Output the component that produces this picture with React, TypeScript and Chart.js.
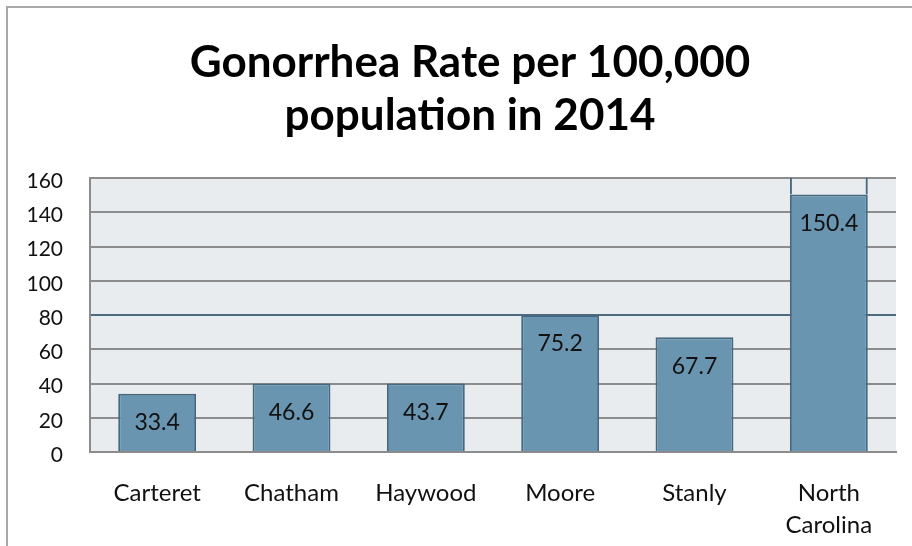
import { useEffect, useRef } from "react";
import { Chart, registerables } from "chart.js";

Chart.register(...registerables);

const titleLines = ["Gonorrhea Rate per 100,000", "population in 2014"];
const categories = [["Carteret"], ["Chatham"], ["Haywood"], ["Moore"], ["Stanly"], ["North", "Carolina"]];
// bar heights as drawn in the picture
const barValues = [34, 40, 40, 80, 67, 150.4];
// value labels printed inside the bars
const valueLabels = ["33.4", "46.6", "43.7", "75.2", "67.7", "150.4"];
// the outline above the North Carolina bar that reaches the top of the axis
const outlineRange: (null | [number, number])[] = [null, null, null, null, null, [150.4, 160]];
const yMin = 0;
const yMax = 160;
const yStep = 20;

const FONT = "Lato, 'Open Sans', sans-serif";
const BAR_FILL = "#6995b0";
const BAR_EDGE = "#46697f";
const PLOT_BG = "#e9ecef";
const GRID = "#8c8c8c";

const decorPlugin = {
  id: "decor",
  beforeDraw(chart: any) {
    const { ctx, chartArea } = chart;
    ctx.save();
    ctx.strokeStyle = "#a8a8a8";
    ctx.lineWidth = 2;
    ctx.strokeRect(7, 7, 2000, 2000);
    ctx.fillStyle = PLOT_BG;
    ctx.fillRect(chartArea.left, chartArea.top, chartArea.right - chartArea.left, chartArea.bottom - chartArea.top);
    // chart title
    ctx.fillStyle = "#000";
    ctx.font = `bold 44px ${FONT}`;
    ctx.textAlign = "center";
    ctx.textBaseline = "middle";
    titleLines.forEach((line, i) => {
      ctx.fillText(line, 470, 62.5 + i * 53.5);
    });
    ctx.restore();
  },
  afterDatasetsDraw(chart: any) {
    const { ctx } = chart;
    const meta = chart.getDatasetMeta(0);
    ctx.save();
    ctx.font = `23px ${FONT}`;
    ctx.fillStyle = "#111";
    ctx.textAlign = "center";
    ctx.textBaseline = "middle";
    meta.data.forEach((bar: any, i: number) => {
      ctx.fillText(valueLabels[i], bar.x, bar.y + 29);
    });
    ctx.restore();
  },
};

export default function App() {
  const ref = useRef<HTMLCanvasElement | null>(null);
  useEffect(() => {
    if (!ref.current) return;
    const chart = new Chart(ref.current, {
      type: "bar",
      data: {
        labels: categories as any,
        datasets: [
          {
            data: barValues,
            backgroundColor: BAR_FILL,
            borderColor: BAR_EDGE,
            borderWidth: 2,
            borderSkipped: "bottom",
            barPercentage: 0.58,
            categoryPercentage: 1,
            grouped: false,
            order: 2,
          },
          {
            data: outlineRange as any,
            backgroundColor: "rgba(0,0,0,0)",
            borderColor: BAR_EDGE,
            borderWidth: { left: 2, right: 2, top: 0, bottom: 0 },
            borderSkipped: false,
            barPercentage: 0.58,
            categoryPercentage: 1,
            grouped: false,
            order: 1,
          },
        ],
      },
      options: {
        animation: false,
        responsive: true,
        maintainAspectRatio: false,
        layout: { padding: { left: 0, right: 16, top: 178, bottom: 0 } },
        plugins: {
          legend: { display: false },
          tooltip: { enabled: false },
          title: { display: false },
        },
        scales: {
          x: {
            grid: { display: false, drawTicks: false },
            border: { display: true, color: GRID, width: 2 },
            ticks: {
              color: "#111",
              font: { family: FONT, size: 24, lineHeight: 1.33 },
              padding: 25,
              maxRotation: 0,
              autoSkip: false,
            },
            afterFit(scale: any) {
              scale.height = 94;
            },
          },
          y: {
            min: yMin,
            max: yMax,
            ticks: {
              stepSize: yStep,
              color: "#111",
              font: { family: FONT, size: 21 },
              padding: 27,
              labelOffset: 3,
            },
            grid: {
              drawTicks: false,
              lineWidth: 2,
              color: (c: any) => (c.tick && c.tick.value === 80 ? "#4d6b80" : GRID),
            },
            border: { display: true, color: GRID, width: 2 },
            afterFit(scale: any) {
              scale.width = 90;
            },
          },
        },
      },
      plugins: [decorPlugin],
    });
    return () => chart.destroy();
  }, []);
  return (
    <div style={{ position: "fixed", left: 0, top: 0, width: 912, height: 546, background: "#fff" }}>
      <canvas ref={ref} />
    </div>
  );
}
